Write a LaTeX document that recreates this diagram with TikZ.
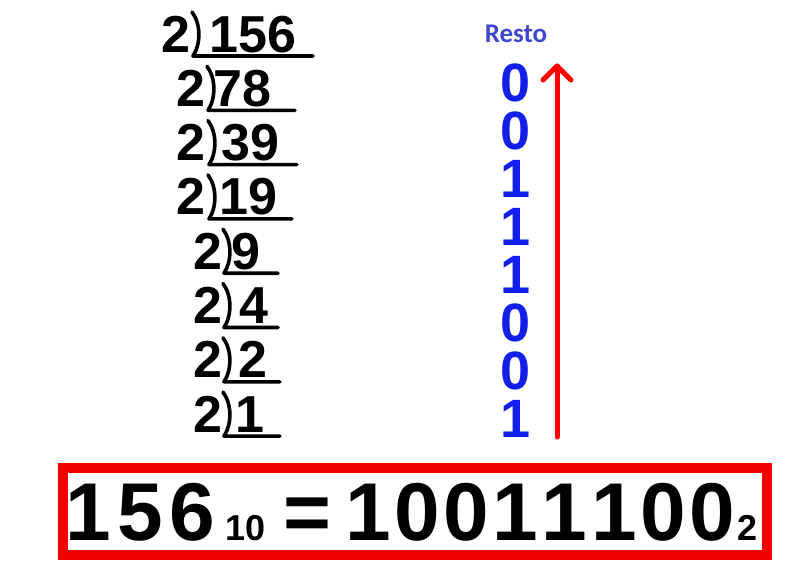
\documentclass[tikz,border=0pt]{standalone}
\usepackage{fontspec}
\setmainfont{Liberation Sans}
\newfontfamily\restofont{Carlito}
\usetikzlibrary{calc}
\definecolor{remblue}{RGB}{20,30,235}
\definecolor{restoblue}{RGB}{63,72,204}
\definecolor{boxred}{RGB}{240,0,0}
\begin{document}
\begin{tikzpicture}[x=1pt,y=-1pt,
  divtext/.style={anchor=base west, inner sep=0pt, font=\fontsize{52}{52}\selectfont\bfseries},
  divline/.style={line width=3.6pt, line cap=round, line join=round},
  remtext/.style={anchor=base, inner sep=0pt, text height=39pt, text depth=0pt, text=remblue, font=\fontsize{54}{54}\selectfont\bfseries},
  arrowline/.style={draw=red, line width=5pt, line cap=round, line join=round},
  bigtext/.style={anchor=base west, inner sep=0pt, font=\fontsize{82}{82}\selectfont\bfseries},
  subtext/.style={anchor=base west, inner sep=0pt, font=\fontsize{36}{36}\selectfont\bfseries}]
\useasboundingbox (0,0) rectangle (812,576);
\fill[white] (0,0) rectangle (812,576);
% division rows
\foreach \i/\tx/\bx/\dx/\num/\ue in {0/161/192/209/156/313, 1/176/207/213/78/295, 2/176/208/221/39/297, 3/176/208/219/19/292, 4/193/223/231/9/278, 5/193/223/239/4/278, 6/193/223/238/2/280, 7/193/223/235/1/280}{
  \pgfmathsetmacro\b{52+54.3*\i}
  \node[divtext] (d\i) at (\tx,\b) {2};
  \node[divtext] (n\i) at (\dx,\b) {\num};
  \draw[divline] (\bx,\b-40) .. controls (\bx+9,\b-28) and (\bx+9,\b-8) .. (\bx+1,\b+4) -- (\ue,\b+4);
}
% remainders
\node[anchor=base, inner sep=0pt, text=restoblue, font=\fontsize{27}{27}\restofont\bfseries] (resto) at (516,42) {Resto};
\foreach \i/\r in {0/0,1/0,2/1,3/1,4/1,5/0,6/0,7/1}{
  \node[remtext] (r\i) at (516,101+48*\i) {\r};
}
% arrow
\coordinate (ab) at (557,437);
\coordinate (at) at (557,66);
\draw[arrowline] (ab) -- (at);
\draw[arrowline] ($(at)+(-14,14)$) -- (at) -- ($(at)+(14,14)$);
% result box
\node[draw=boxred, line width=10pt, minimum width=704pt, minimum height=87pt, inner sep=0pt] (box) at (415,511.5) {};
\node[bigtext] (dec) at (65,540) {1\kern6.5pt 5\kern6.5pt 6};
\node[subtext] (decb) at (225,540) {10};
\node[bigtext] (eq) at (283,540) {=};
\node[bigtext] (bin) at (345,540) {1\kern3.6pt 0\kern3.6pt 0\kern3.6pt 1\kern3.6pt 1\kern3.6pt 1\kern3.6pt 0\kern3.6pt 0};
\node[subtext] (binb) at (737,540) {2};
\end{tikzpicture}
\end{document}
